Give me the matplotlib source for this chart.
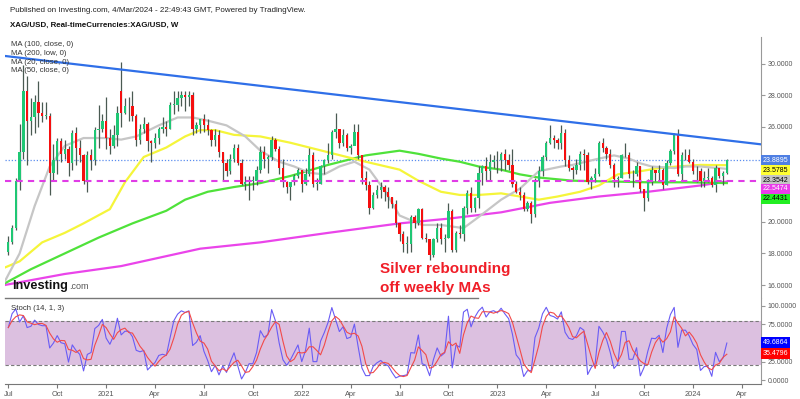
import numpy as np
import pandas as pd
import matplotlib
matplotlib.use("Agg")
import matplotlib.pyplot as plt
from matplotlib.lines import Line2D

plt.rcParams['font.family'] = ['Liberation Sans', 'DejaVu Sans']

# weekly XAG/USD candles, first bar = week of 6 Jul 2020
first_open = 18.1
closes = [18.75, 19.6, 22.6, 24.4, 28.3, 26.4, 26.6, 27.6, 26.9, 26.7, 26.7, 23.1, 23.9, 25.1, 24.3, 24.6, 23.7, 25.6, 24.7, 24.2, 22.6, 24.2, 23.9, 25.8, 25.9, 26.4,
          25.3, 24.8, 25.5, 26.9, 26.9, 27.3, 27.3, 26.7, 25.2, 25.9, 26.2, 25.1, 25.0, 25.3, 25.9, 26.0, 25.9, 27.4, 27.4, 27.8, 28.0, 27.9, 28.0, 25.9, 26.1, 26.5,
          26.1, 25.8, 25.2, 25.5, 24.4, 23.7, 23.2, 24.0, 24.7, 23.7, 22.4, 22.5, 22.6, 22.6, 23.3, 24.4, 24.0, 24.1, 25.2, 24.6, 23.4, 22.5, 22.2, 22.5, 22.9, 23.3,
          22.4, 23.0, 24.2, 22.4, 22.4, 23.5, 23.9, 24.2, 25.7, 25.9, 25.0, 25.5, 24.7, 24.8, 25.7, 24.2, 22.8, 22.3, 20.9, 21.7, 22.0, 22.2, 21.9, 21.6, 21.1, 19.9,
          19.2, 18.6, 18.6, 20.3, 19.9, 20.8, 19.0, 18.9, 17.9, 18.9, 19.6, 18.9, 19.0, 20.7, 18.2, 19.3, 19.2, 20.9, 21.8, 20.9, 21.5, 23.1, 23.5, 23.2, 23.8, 23.9,
          23.9, 24.3, 23.9, 23.6, 22.4, 21.9, 21.7, 20.8, 21.2, 20.5, 22.6, 23.2, 24.1, 25.0, 25.3, 25.2, 25.0, 25.6, 23.9, 23.4, 23.3, 23.6, 24.3, 24.2, 22.5, 22.8,
          23.0, 25.0, 24.7, 24.3, 23.6, 22.7, 22.8, 24.2, 24.2, 23.0, 23.0, 23.5, 22.1, 21.5, 22.5, 23.3, 23.1, 23.3, 22.3, 23.7, 24.5, 25.5, 23.0, 24.2, 24.2, 23.8,
          23.2, 23.2, 22.6, 22.8, 22.8, 22.3, 23.4, 22.9, 23.1, 23.9]
highs = [19.1, 19.8, 22.8, 26.2, 29.9, 29.2, 27.8, 28.0, 28.9, 27.6, 27.6, 26.9, 24.9, 25.3, 25.3, 25.2, 24.8, 25.8, 26.0, 25.2, 24.3, 24.5, 24.6, 26.0, 27.4, 26.8,
         27.9, 25.9, 26.1, 27.3, 30.1, 27.8, 27.9, 28.3, 26.8, 26.2, 26.6, 26.3, 25.2, 25.6, 26.0, 26.6, 26.4, 27.6, 28.3, 28.3, 28.3, 28.3, 28.3, 28.2, 26.3, 26.5,
         26.8, 26.5, 25.9, 25.9, 25.8, 24.4, 24.0, 24.3, 24.9, 24.9, 24.0, 22.9, 22.9, 22.9, 23.5, 24.8, 24.8, 24.2, 25.4, 25.3, 24.8, 24.0, 22.6, 22.5, 23.0, 23.4,
         23.3, 23.4, 24.7, 24.4, 22.8, 23.6, 24.0, 25.0, 25.8, 26.9, 25.9, 25.9, 25.6, 24.9, 26.2, 26.2, 24.2, 23.2, 22.6, 21.9, 22.3, 22.5, 22.3, 22.2, 21.6, 21.4,
         19.9, 19.4, 19.1, 20.4, 20.4, 20.9, 20.9, 19.3, 18.8, 19.0, 19.9, 19.9, 19.2, 21.2, 20.8, 19.4, 19.8, 21.0, 22.0, 22.2, 21.6, 23.5, 23.6, 24.1, 24.3, 24.2,
         24.5, 24.4, 24.6, 24.3, 24.6, 22.6, 22.2, 21.9, 21.3, 21.3, 22.8, 23.5, 24.2, 25.1, 26.1, 25.5, 25.3, 26.1, 25.9, 24.2, 23.5, 24.0, 24.5, 24.6, 24.4, 22.9,
         23.4, 25.1, 25.3, 24.8, 24.6, 23.7, 22.9, 24.3, 25.0, 24.4, 23.3, 23.8, 23.5, 22.1, 22.7, 23.5, 23.3, 23.6, 23.4, 23.9, 24.6, 25.6, 25.9, 24.4, 24.6, 24.6,
         24.0, 23.5, 23.4, 23.2, 23.4, 22.9, 23.6, 23.3, 23.2, 23.95]
lows = [17.9, 18.6, 19.5, 22.0, 24.0, 23.6, 25.5, 25.6, 26.0, 26.3, 26.5, 21.7, 22.6, 23.0, 23.8, 24.0, 22.9, 23.3, 23.6, 23.8, 22.4, 21.9, 23.3, 23.6, 24.7, 25.7,
        24.6, 24.3, 24.7, 24.8, 26.0, 26.8, 26.4, 26.4, 24.8, 24.9, 25.6, 24.5, 23.8, 24.7, 24.9, 25.6, 25.4, 25.9, 26.8, 27.0, 27.3, 27.0, 27.3, 25.5, 25.6, 25.6,
        25.7, 25.5, 24.8, 24.8, 24.1, 22.6, 22.9, 23.0, 23.8, 23.6, 22.3, 22.0, 21.4, 22.0, 22.3, 23.1, 23.4, 23.1, 23.9, 24.5, 23.0, 22.2, 21.8, 21.4, 22.3, 22.8,
        21.9, 22.3, 22.9, 22.2, 22.0, 22.4, 23.0, 23.7, 24.0, 25.3, 24.7, 24.8, 24.5, 24.3, 24.9, 24.0, 22.4, 22.0, 20.5, 20.8, 21.5, 21.5, 21.3, 20.9, 20.9, 19.7,
        18.8, 18.1, 18.0, 18.1, 19.6, 19.8, 18.9, 18.7, 17.6, 17.8, 18.7, 18.6, 18.1, 19.0, 18.1, 18.1, 19.0, 18.8, 20.5, 20.6, 20.6, 20.9, 22.3, 22.6, 22.6, 23.4,
        23.1, 23.2, 23.3, 23.3, 22.2, 21.8, 21.4, 20.7, 20.7, 19.9, 20.3, 22.2, 22.9, 23.9, 24.9, 24.7, 24.6, 24.6, 23.5, 23.2, 22.7, 23.0, 23.3, 23.3, 22.4, 22.1,
        22.5, 22.9, 24.4, 24.0, 23.4, 22.2, 22.2, 22.8, 24.1, 22.8, 22.2, 22.9, 21.9, 20.7, 21.3, 22.3, 22.6, 22.6, 22.1, 22.3, 23.6, 24.3, 22.9, 22.6, 23.9, 23.7,
        23.0, 22.5, 22.2, 22.2, 22.5, 22.2, 21.9, 22.8, 22.3, 23.0]
gap_bars = [30]
gap_opens = [28.3]

# moving averages (bar index, value)
ma20_bars = [-1, 3, 7, 11, 15, 20, 26, 30, 34, 40, 45, 49, 53, 58, 63, 67, 72, 76, 80, 84, 88, 92, 96, 100, 104, 110, 115, 121, 125, 131, 136, 141, 147, 150, 157, 161, 165, 168, 171, 177, 180, 184, 191]
ma20 = [16.2, 18.0, 21.0, 23.5, 24.8, 25.3, 25.3, 25.2, 25.4, 26.1, 26.6, 26.6, 26.4, 26.1, 25.4, 24.5, 23.8, 23.5, 23.1, 23.0, 23.5, 23.8, 23.3, 22.0, 20.4, 19.8, 19.8, 19.6, 20.3, 21.4, 22.1, 23.2, 23.5, 23.6, 24.0, 24.2, 24.0, 23.7, 23.5, 23.4, 23.5, 23.5, 23.35]
ma50_bars = [-1, 3, 9, 15, 20, 27, 31, 36, 42, 47, 51, 55, 60, 67, 75, 85, 95, 104, 109, 115, 120, 125, 131, 136, 141, 146, 152, 157, 162, 168, 173, 178, 184, 191]
ma50 = [17.1, 17.5, 18.7, 19.3, 19.9, 20.8, 22.5, 24.1, 24.7, 25.4, 25.8, 25.8, 25.5, 25.4, 25.0, 24.4, 23.8, 23.3, 22.6, 21.9, 21.7, 21.7, 21.8, 21.6, 21.4, 21.6, 21.9, 22.3, 23.0, 23.2, 23.4, 23.5, 23.6, 23.58]
ma100_bars = [-1, 6, 15, 24, 33, 42, 47, 53, 60, 67, 75, 85, 95, 104, 109, 115, 120, 125, 131, 136, 141, 150, 160, 170, 180, 191]
ma100 = [16.1, 17.0, 18.0, 19.0, 19.9, 20.7, 21.4, 21.9, 22.2, 22.45, 22.9, 23.6, 24.2, 24.5, 24.3, 24.0, 23.8, 23.5, 23.3, 23.0, 22.8, 22.6, 22.55, 22.5, 22.5, 22.45]
ma200_bars = [-1, 15, 30, 51, 67, 85, 104, 117, 131, 144, 157, 170, 184, 191]
ma200 = [16.0, 16.7, 17.2, 18.3, 18.7, 19.3, 19.9, 20.2, 20.6, 21.2, 21.6, 21.9, 22.3, 22.55]

trend_bars = [-0.9, 200.1]
trend_vals = [30.49, 24.9]
last_price = 23.8895
support = 22.55

price_labels = ['23.8895', '23.5785', '23.3542', '22.5474', '22.4431']
price_label_y = [160, 170, 180, 189, 199]
price_label_bg = ['#4f7fe3', '#ffff33', '#c4c4c4', '#ea3cea', '#22ee22']
price_label_fg = ['white', 'black', 'black', 'white', 'black']

o = np.array([first_open] + closes[:-1])
for b, v in zip(gap_bars, gap_opens):
    o[b] = v
c = np.array(closes)
h = np.array(highs)
l = np.array(lows)
n = len(c)
x = np.arange(n)
dates = pd.date_range('2020-07-06', periods=n + 10, freq='W-MON')

# stochastic (14, 1, 3)
hh = pd.Series(h).rolling(14, min_periods=1).max()
ll = pd.Series(l).rolling(14, min_periods=1).min()
k = 100 * (pd.Series(c) - ll) / (hh - ll)
d = k.rolling(3, min_periods=1).mean()

W, H = 800, 399
fig = plt.figure(figsize=(8, 3.99), dpi=100)

def fx(px):
    return px / W

def fy(py):
    return 1 - py / H

ax = fig.add_axes([fx(5), fy(297.7), fx(761) - fx(5), fy(37) - fy(297.7)])
ax2 = fig.add_axes([fx(5), fy(384.3), fx(761) - fx(5), fy(297.7) - fy(384.3)])

xl = (-0.88, 200.08)
tfs = 5.0

# --- price panel
ax.plot(ma200_bars, ma200, color='#ea44ea', lw=1.6, zorder=2)
ax.plot(ma100_bars, ma100, color='#4fe23a', lw=1.6, zorder=2)
ax.plot(ma50_bars, ma50, color='#f5f53a', lw=1.6, zorder=2)
ax.plot(ma20_bars, ma20, color='#c6c6c6', lw=1.6, zorder=2)

up = c >= o
col = np.where(up, '#1fc774', '#f50f0f')
ax.vlines(x, l, h, color='#4a5a52', lw=0.9, zorder=3)
ax.bar(x, np.maximum(np.abs(c - o), 0.04), bottom=np.minimum(o, c), width=0.62,
       color=col, zorder=4, linewidth=0)

ax.plot(trend_bars, trend_vals, color='#2f6fe8', lw=1.6, zorder=5)
ax.axhline(last_price, color='#5b8def', lw=0.9, ls=(0, (1, 1.5)), zorder=1)
ax.axhline(support, color='#e03ce6', lw=1.5, ls=(0, (3, 2.5)), zorder=5)

ax.set_xlim(*xl)
ax.set_ylim(15.20, 31.69)
for s in ['left', 'top', 'bottom']:
    ax.spines[s].set_visible(False)
ax.spines['right'].set_color('#999999')
ax.yaxis.tick_right()
ax.set_yticks([16, 18, 20, 22, 24, 26, 28, 30])
ax.set_yticklabels(['16.0000', '18.0000', '20.0000', '', '', '26.0000', '28.0000', '30.0000'])
ax.tick_params(axis='y', direction='out', length=3, width=0.8, color='#999999',
               labelsize=tfs, labelcolor='#555555', pad=1.5)
ax.set_xticks([])

# --- stochastic panel
ax2.axhspan(20, 80, color='#dcc0e0', lw=0, zorder=0)
ax2.axhline(80, color='#7a7a7a', lw=0.8, ls=(0, (3, 2)), zorder=1)
ax2.axhline(20, color='#7a7a7a', lw=0.8, ls=(0, (3, 2)), zorder=1)
ax2.plot(x, k, color='#6a5cf5', lw=0.8, zorder=2)
ax2.plot(x, d, color='#f24a4a', lw=0.8, zorder=3)
ax2.set_xlim(*xl)
ax2.set_ylim(-5.5, 111)
for s in ['left', 'top']:
    ax2.spines[s].set_visible(False)
ax2.spines['right'].set_color('#999999')
ax2.spines['bottom'].set_color('#777777')
ax2.yaxis.tick_right()
ax2.set_yticks([0, 25, 50, 75, 100])
ax2.set_yticklabels(['0.0000', '25.0000', '', '75.0000', '100.0000'])
ax2.tick_params(axis='y', direction='out', length=3, width=0.8, color='#999999',
                labelsize=tfs, labelcolor='#555555', pad=1.5)

# date ticks at first bar of each quarter
tick_pos, tick_lab = [], []
for i, dt in enumerate(dates):
    if dt.month in (1, 4, 7, 10) and dt.day <= 7:
        tick_pos.append(i)
        tick_lab.append(str(dt.year) if dt.month == 1 else dt.strftime('%b'))
ax2.set_xticks(tick_pos)
ax2.set_xticklabels(tick_lab)
ax2.tick_params(axis='x', direction='out', length=3, width=0.8, color='#777777',
                labelsize=5.3, labelcolor='#555555', pad=1.5)

# separator between panels
fig.add_artist(Line2D([fx(5), fx(478)], [fy(297.7), fy(297.7)], color='#777777', lw=1.0))

# right-side value boxes
for s, py, bg, fg in zip(price_labels, price_label_y, price_label_bg, price_label_fg):
    fig.text(fx(763), fy(py), s, fontsize=tfs, color=fg, va='center', ha='left',
             bbox=dict(boxstyle='square,pad=0.25', fc=bg, ec='none'))
fig.text(fx(763), fy(342.7), '49.6864', fontsize=tfs, color='white', va='center', ha='left',
         bbox=dict(boxstyle='square,pad=0.25', fc='#0000ff', ec='none'))
fig.text(fx(763), fy(353.3), '35.4796', fontsize=tfs, color='white', va='center', ha='left',
         bbox=dict(boxstyle='square,pad=0.25', fc='#ff0000', ec='none'))

# header texts
fig.text(fx(10), fy(10), 'Published on Investing.com, 4/Mar/2024 - 22:49:43 GMT, Powered by TradingView.',
         fontsize=5.8, color='#222222', va='center')
fig.text(fx(10), fy(25), 'XAG/USD, Real-timeCurrencies:XAG/USD, W', fontsize=5.7,
         fontweight='bold', color='#111111', va='center')
for i, s in enumerate(['MA (100, close, 0)', 'MA (200, low, 0)', 'MA (20, close, 0)', 'MA (50, close, 0)']):
    fig.text(fx(11), fy(45 + i * 8.5), s, fontsize=5.6, color='#333333', va='center')
fig.text(fx(11), fy(308), 'Stoch (14, 1, 3)', fontsize=5.6, color='#333333', va='center')

# logo
fig.text(fx(12), fy(289), 'Investing', fontsize=9.2, fontweight='bold', color='#111111', va='baseline')
fig.text(fx(69), fy(289), '.com', fontsize=6.5, color='#555555', va='baseline')

# annotation
fig.text(fx(380), fy(273.5), 'Silver rebounding', fontsize=11, fontweight='bold', color='#f01e28', va='baseline')
fig.text(fx(380), fy(292), 'off weekly MAs', fontsize=11, fontweight='bold', color='#f01e28', va='baseline')

fig.savefig('out.png', dpi=100)
